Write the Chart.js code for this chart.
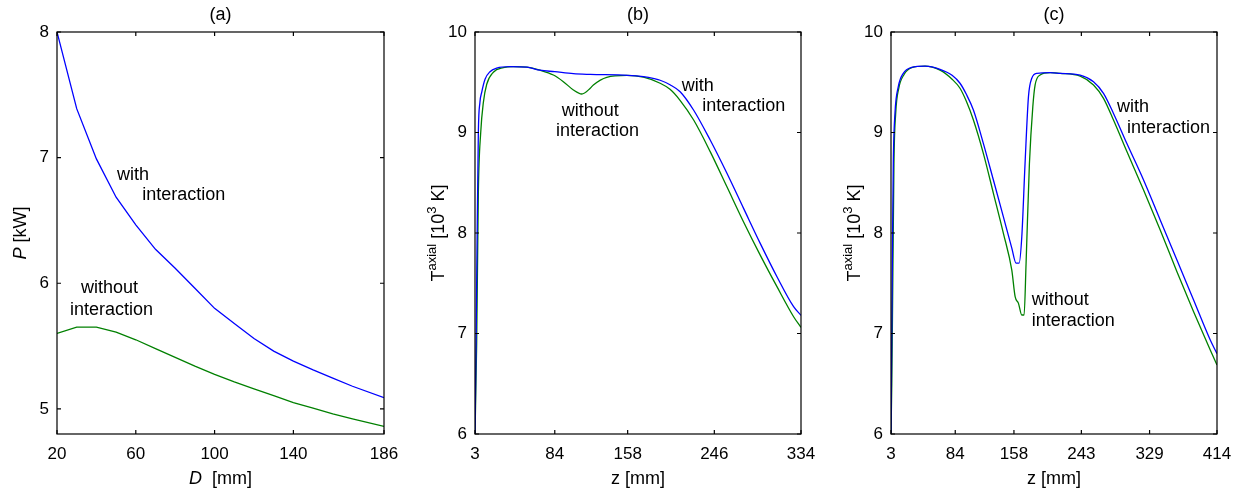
<!DOCTYPE html>
<html>
<head>
<meta charset="utf-8">
<script src="https://cdn.jsdelivr.net/npm/chart.js@4.4.1/dist/chart.umd.min.js"></script>
<style>
  html, body { margin: 0; padding: 0; background: #fff; }
  #wrap { position: relative; width: 1249px; height: 493px; }
  canvas { position: absolute; top: 0; }
</style>
</head>
<body>
<div id="wrap">
  <canvas id="chartA" width="415" height="493" style="left:0px"></canvas>
  <canvas id="chartB" width="415" height="493" style="left:415px"></canvas>
  <canvas id="chartC" width="419" height="493" style="left:830px"></canvas>
</div>
<script>
const FONT = '"Liberation Sans", Arial, Helvetica, sans-serif';
const BLUE = "#0000ff";
const GREEN = "#008000";

// (a) power vs diameter
const aD = [20, 30, 40, 50, 60, 70, 80, 90, 100, 110, 120, 130, 140, 150, 160, 170, 186];
const aWith = [8.0, 7.39, 6.99, 6.685, 6.465, 6.27, 6.12, 5.96, 5.8, 5.68, 5.56, 5.46, 5.38, 5.31, 5.245, 5.18, 5.09];
const aWithout = [5.6, 5.65, 5.65, 5.61, 5.55, 5.48, 5.41, 5.34, 5.275, 5.215, 5.16, 5.105, 5.05, 5.005, 4.96, 4.92, 4.86];
const aXTicks = [20, 60, 100, 140, 186];
const aYTicks = [5, 6, 7, 8];

// (b) axial temperature, short torch
const bWithZ = [3, 4, 5, 6.4, 8, 9.8, 13.2, 18.2, 25, 38.6, 55.7, 69, 84, 102.9, 120, 158, 174, 185, 191, 201, 211.3, 224.9, 241.8, 258.8, 275.7, 292.6, 309.6, 326.5, 334];
const bWithT = [6.0, 6.8, 7.8, 9.0, 9.3, 9.4, 9.53, 9.605, 9.64, 9.655, 9.65, 9.62, 9.605, 9.585, 9.578, 9.569, 9.555, 9.535, 9.52, 9.475, 9.406, 9.224, 8.925, 8.594, 8.245, 7.897, 7.565, 7.267, 7.18];
const bWithoutZ = [3, 4.7, 6.4, 8.8, 11.5, 14.9, 21.6, 31.8, 42, 55.7, 69, 82.6, 92.7, 102.9, 111.4, 120, 123.2, 136.8, 157, 174, 191, 201, 211, 225, 241.8, 258.8, 275.7, 292.6, 309.6, 326.5, 334];
const bWithoutT = [6.0, 6.9, 8.4, 9.0, 9.3, 9.48, 9.6, 9.645, 9.655, 9.65, 9.62, 9.572, 9.506, 9.423, 9.383, 9.44, 9.473, 9.549, 9.568, 9.55, 9.49, 9.43, 9.323, 9.124, 8.81, 8.46, 8.11, 7.78, 7.466, 7.167, 7.06];
const bXTicks = [3, 84, 158, 246, 334];

// (c) axial temperature, long torch
const cWithZ = [3, 4, 4.7, 5.9, 8, 12.2, 18.5, 29.1, 45.9, 64.8, 80, 90, 98, 106.9, 119.5, 132.1, 144.7, 155.3, 160.7, 164.5, 167.9, 172, 176.3, 180.5, 186.9, 203.6, 216.2, 241.5, 258.3, 270.9, 283.5, 300.4, 321.4, 342.4, 363.5, 384.5, 405.5, 414];
const cWithT = [6.0, 7.0, 7.7, 8.69, 9.19, 9.456, 9.589, 9.648, 9.66, 9.629, 9.57, 9.49, 9.38, 9.224, 8.89, 8.527, 8.16, 7.85, 7.7, 7.7, 7.963, 8.69, 9.357, 9.54, 9.589, 9.595, 9.589, 9.572, 9.506, 9.39, 9.19, 8.89, 8.527, 8.13, 7.731, 7.333, 6.935, 6.8];
const cWithoutZ = [3, 4, 4.7, 6.7, 8.9, 12.8, 19.3, 29.1, 45.9, 64.8, 80, 90, 98, 106.9, 119.5, 132.1, 144.7, 155.3, 159.5, 163.7, 167.9, 170.8, 173.3, 177.5, 181.8, 184.7, 191, 203.6, 216.2, 241.5, 258.3, 270.9, 283.5, 300.4, 321.4, 342.4, 363.5, 384.5, 405.5, 414];
const cWithoutT = [6.0, 6.5, 7.03, 8.69, 9.19, 9.44, 9.575, 9.645, 9.66, 9.62, 9.53, 9.44, 9.31, 9.124, 8.79, 8.395, 7.997, 7.63, 7.366, 7.3, 7.184, 7.184, 7.7, 8.69, 9.257, 9.473, 9.572, 9.595, 9.589, 9.56, 9.473, 9.34, 9.124, 8.81, 8.428, 8.03, 7.615, 7.217, 6.836, 6.686];
const cXTicks = [3, 84, 158, 243, 329, 414];

const tYTicks = [6, 7, 8, 9, 10];

const pts = (xs, ys) => xs.map((x, i) => ({ x, y: ys[i] }));

function fontOf(p) {
  return `${p.italic ? "italic " : ""}${p.size || 18}px ${FONT}`;
}

// draw a line of text made of parts (italic / superscript), centred on x,y
function drawRich(ctx, parts, x, y, rotate) {
  ctx.save();
  ctx.translate(x, y);
  if (rotate) ctx.rotate(-Math.PI / 2);
  let w = 0;
  parts.forEach((p) => {
    ctx.font = fontOf(p);
    w += ctx.measureText(p.t).width;
  });
  let cx = -w / 2;
  ctx.textBaseline = "alphabetic";
  ctx.textAlign = "left";
  ctx.fillStyle = "#000";
  parts.forEach((p) => {
    ctx.font = fontOf(p);
    ctx.fillText(p.t, cx, 6.5 - (p.sup ? 8 : 0));
    cx += ctx.measureText(p.t).width;
  });
  ctx.restore();
}

const frameTicks = {
  id: "frameTicks",
  afterDatasetsDraw(chart) {
    const { ctx, chartArea: a, scales } = chart;
    const len = 4;
    ctx.save();
    ctx.strokeStyle = "#000";
    ctx.lineWidth = 1.2;
    ctx.strokeRect(a.left, a.top, a.right - a.left, a.bottom - a.top);
    ctx.beginPath();
    scales.x.ticks.forEach((t) => {
      const px = scales.x.getPixelForValue(t.value);
      ctx.moveTo(px, a.bottom);
      ctx.lineTo(px, a.bottom - len);
      ctx.moveTo(px, a.top);
      ctx.lineTo(px, a.top + len);
    });
    scales.y.ticks.forEach((t) => {
      const py = scales.y.getPixelForValue(t.value);
      ctx.moveTo(a.left, py);
      ctx.lineTo(a.left + len, py);
      ctx.moveTo(a.right, py);
      ctx.lineTo(a.right - len, py);
    });
    ctx.stroke();
    ctx.restore();
  },
};

const panelText = {
  id: "panelText",
  afterDraw(chart, args, opts) {
    const { ctx, chartArea: a, scales } = chart;
    const midX = (a.left + a.right) / 2;
    const midY = (a.top + a.bottom) / 2;
    drawRich(ctx, [{ t: opts.title }], midX, 13, false);
    drawRich(ctx, opts.xTitle, midX, 477, false);
    drawRich(ctx, opts.yTitle, a.left - 38, midY, true);
    ctx.save();
    ctx.font = `18px ${FONT}`;
    ctx.fillStyle = "#000";
    ctx.textAlign = "left";
    ctx.textBaseline = "middle";
    opts.notes.forEach((n) => {
      ctx.fillText(n.t, scales.x.getPixelForValue(n.x), scales.y.getPixelForValue(n.y));
    });
    ctx.restore();
  },
};

function makePanel(id, cfg) {
  const tickFont = { family: FONT, size: 17 };
  return new Chart(document.getElementById(id), {
    type: "line",
    data: {
      datasets: cfg.series.map((s) => ({
        data: s.data,
        borderColor: s.color,
        borderWidth: 1.3,
        pointRadius: 0,
        fill: false,
        tension: cfg.smooth ? 0.4 : 0,
        cubicInterpolationMode: cfg.smooth ? "monotone" : "default",
      })),
    },
    options: {
      responsive: false,
      animation: false,
      layout: { padding: { left: 0, right: cfg.padRight, top: 32, bottom: 0 } },
      scales: {
        x: {
          type: "linear",
          min: cfg.xMin,
          max: cfg.xMax,
          afterBuildTicks: (s) => { s.ticks = cfg.xTicks.map((v) => ({ value: v })); },
          afterFit: (s) => { s.height = 59; },
          grid: { display: false, drawTicks: false },
          border: { display: false },
          ticks: { font: tickFont, color: "#000", padding: 10, autoSkip: false, maxRotation: 0, callback: (v) => String(v) },
        },
        y: {
          type: "linear",
          min: cfg.yMin,
          max: cfg.yMax,
          afterBuildTicks: (s) => { s.ticks = cfg.yTicks.map((v) => ({ value: v })); },
          afterFit: (s) => { s.width = cfg.left; },
          grid: { display: false, drawTicks: false },
          border: { display: false },
          ticks: { font: tickFont, color: "#000", padding: 8, callback: (v) => String(v) },
        },
      },
      plugins: {
        legend: { display: false },
        tooltip: { enabled: false },
        panelText: { title: cfg.title, xTitle: cfg.xTitle, yTitle: cfg.yTitle, notes: cfg.notes },
      },
    },
    plugins: [frameTicks, panelText],
  });
}

const tTitle = [{ t: "T" }, { t: "axial", size: 13, sup: true }, { t: " [10" }, { t: "3", size: 13, sup: true }, { t: " K]" }];
const zTitle = [{ t: "z [mm]" }];

makePanel("chartA", {
  title: "(a)",
  left: 57, padRight: 31,
  xMin: 20, xMax: 186, yMin: 4.8, yMax: 8,
  xTicks: aXTicks, yTicks: aYTicks,
  smooth: false,
  series: [{ data: pts(aD, aWith), color: BLUE }, { data: pts(aD, aWithout), color: GREEN }],
  xTitle: [{ t: "D", italic: true }, { t: "  [mm]" }],
  yTitle: [{ t: "P", italic: true }, { t: " [kW]" }],
  notes: [
    { t: "with", x: 50.5, y: 6.86 },
    { t: "interaction", x: 63.3, y: 6.7 },
    { t: "without", x: 32.2, y: 5.96 },
    { t: "interaction", x: 26.6, y: 5.79 },
  ],
});

makePanel("chartB", {
  title: "(b)",
  left: 60, padRight: 29,
  xMin: 3, xMax: 334, yMin: 6, yMax: 10,
  xTicks: bXTicks, yTicks: tYTicks,
  smooth: true,
  series: [{ data: pts(bWithZ, bWithT), color: BLUE }, { data: pts(bWithoutZ, bWithoutT), color: GREEN }],
  xTitle: zTitle,
  yTitle: tTitle,
  notes: [
    { t: "with", x: 213, y: 9.46 },
    { t: "interaction", x: 233.7, y: 9.26 },
    { t: "without", x: 91.1, y: 9.21 },
    { t: "interaction", x: 85.3, y: 9.01 },
  ],
});

makePanel("chartC", {
  title: "(c)",
  left: 61, padRight: 32,
  xMin: 3, xMax: 414, yMin: 6, yMax: 10,
  xTicks: cXTicks, yTicks: tYTicks,
  smooth: true,
  series: [{ data: pts(cWithZ, cWithT), color: BLUE }, { data: pts(cWithoutZ, cWithoutT), color: GREEN }],
  xTitle: zTitle,
  yTitle: tTitle,
  notes: [
    { t: "with", x: 287.8, y: 9.25 },
    { t: "interaction", x: 300.4, y: 9.045 },
    { t: "without", x: 180.5, y: 7.333 },
    { t: "interaction", x: 180.5, y: 7.124 },
  ],
});
</script>
</body>
</html>
